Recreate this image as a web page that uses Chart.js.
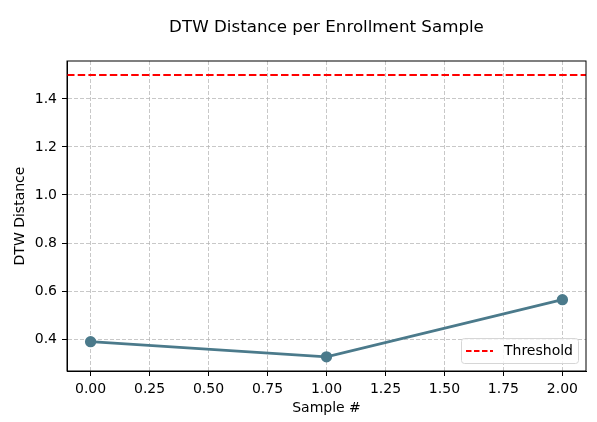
<!DOCTYPE html>
<html>
<head>
<meta charset="utf-8">
<script src="https://cdn.jsdelivr.net/npm/chart.js@4/dist/chart.umd.min.js"></script>
<style>
  html, body { margin: 0; padding: 0; background: #fff; }
  #wrap { width: 597px; height: 422px; }
</style>
</head>
<body>
<div id="wrap"><canvas id="chart" width="597" height="422"></canvas></div>
<script>
// DTW distance per enrollment sample
const sampleIdx = [0, 1, 2];
const dtwDistance = [0.389, 0.326, 0.564];
const thresholdValue = 1.5;
const xTicks = [0, 0.25, 0.5, 0.75, 1.0, 1.25, 1.5, 1.75, 2.0];
const yTicks = [0.4, 0.6, 0.8, 1.0, 1.2, 1.4];
const xRange = [-0.1, 2.1];
const yRange = [0.267, 1.558];

const FONT = 'DejaVu Sans, sans-serif';
const lineColor = '#4b7a8b';
const thresholdDash = [7.5, 3.2];

// frame + title + inset legend, matplotlib style
const extras = {
    id: 'extras',
    afterDraw(chart) {
        const { ctx, chartArea: a } = chart;
        ctx.save();
        ctx.setLineDash([]);
        ctx.strokeStyle = '#000';
        ctx.lineWidth = 1;
        ctx.strokeRect(a.left, a.top, a.right - a.left, a.bottom - a.top);

        ctx.fillStyle = '#000';
        ctx.font = '16.7px ' + FONT;
        ctx.textAlign = 'center';
        ctx.textBaseline = 'middle';
        ctx.fillText('DTW Distance per Enrollment Sample', (a.left + a.right) / 2, 28);

        // legend box
        const bw = 117, bh = 25;
        const bx = a.right - 8 - bw, by = a.bottom - 8 - bh;
        ctx.fillStyle = 'rgba(255,255,255,0.8)';
        ctx.strokeStyle = '#d6d6d6';
        ctx.beginPath();
        ctx.roundRect(bx + 0.5, by + 0.5, bw, bh, 3);
        ctx.fill();
        ctx.stroke();
        ctx.strokeStyle = 'red';
        ctx.lineWidth = 2;
        ctx.setLineDash([5.5, 2.5]);
        ctx.beginPath();
        ctx.moveTo(bx + 5, by + 13);
        ctx.lineTo(bx + 32, by + 13);
        ctx.stroke();
        ctx.setLineDash([]);
        ctx.fillStyle = '#000';
        ctx.font = '14px ' + FONT;
        ctx.textAlign = 'left';
        ctx.fillText('Threshold', bx + 43, by + 13);
        ctx.restore();
    }
};

const gridOpts = {
    color: 'rgba(176,176,176,0.7)',
    tickColor: '#000',
    tickBorderDash: [],
    tickLength: 5,
};

new Chart(document.getElementById('chart').getContext('2d'), {
    type: 'scatter',
    data: {
        datasets: [
            {
                label: 'Threshold',
                data: xRange.map(x => ({ x: x, y: thresholdValue })),
                showLine: true,
                borderColor: 'red',
                borderWidth: 2,
                borderDash: thresholdDash,
                pointRadius: 0,
            },
            {
                label: 'DTW Distance',
                data: sampleIdx.map((x, i) => ({ x: x, y: dtwDistance[i] })),
                showLine: true,
                borderColor: lineColor,
                backgroundColor: lineColor,
                borderWidth: 2.7,
                pointRadius: 4.3,
                pointHoverRadius: 4.3,
            },
        ],
    },
    options: {
        responsive: false,
        animation: false,
        devicePixelRatio: 1,
        layout: { padding: { top: 61, right: 11, bottom: 0, left: 0 } },
        plugins: {
            legend: { display: false },
            title: { display: false },
            tooltip: { enabled: false },
        },
        scales: {
            x: {
                type: 'linear',
                min: xRange[0],
                max: xRange[1],
                afterBuildTicks: s => { s.ticks = xTicks.map(v => ({ value: v })); },
                afterFit: s => { s.height = 51; },
                ticks: {
                    color: '#000',
                    font: { family: FONT, size: 14 },
                    padding: 5,
                    maxRotation: 0,
                    callback: v => v.toFixed(2),
                },
                grid: gridOpts,
                border: { color: '#000', dash: [4, 2] },
                title: {
                    display: true,
                    text: 'Sample #',
                    color: '#000',
                    font: { family: FONT, size: 14 },
                    padding: { top: 2, bottom: 5.5 },
                },
            },
            y: {
                min: yRange[0],
                max: yRange[1],
                afterBuildTicks: s => { s.ticks = yTicks.map(v => ({ value: v })); },
                afterFit: s => { s.width = 67; },
                ticks: {
                    color: '#000',
                    font: { family: FONT, size: 14 },
                    padding: 5,
                    callback: v => v.toFixed(1),
                },
                grid: gridOpts,
                border: { color: '#000', dash: [4, 2] },
                title: {
                    display: true,
                    text: 'DTW Distance',
                    color: '#000',
                    font: { family: FONT, size: 14 },
                    padding: { top: 11.5, bottom: 2 },
                },
            },
        },
    },
    plugins: [extras],
});
</script>
</body>
</html>
